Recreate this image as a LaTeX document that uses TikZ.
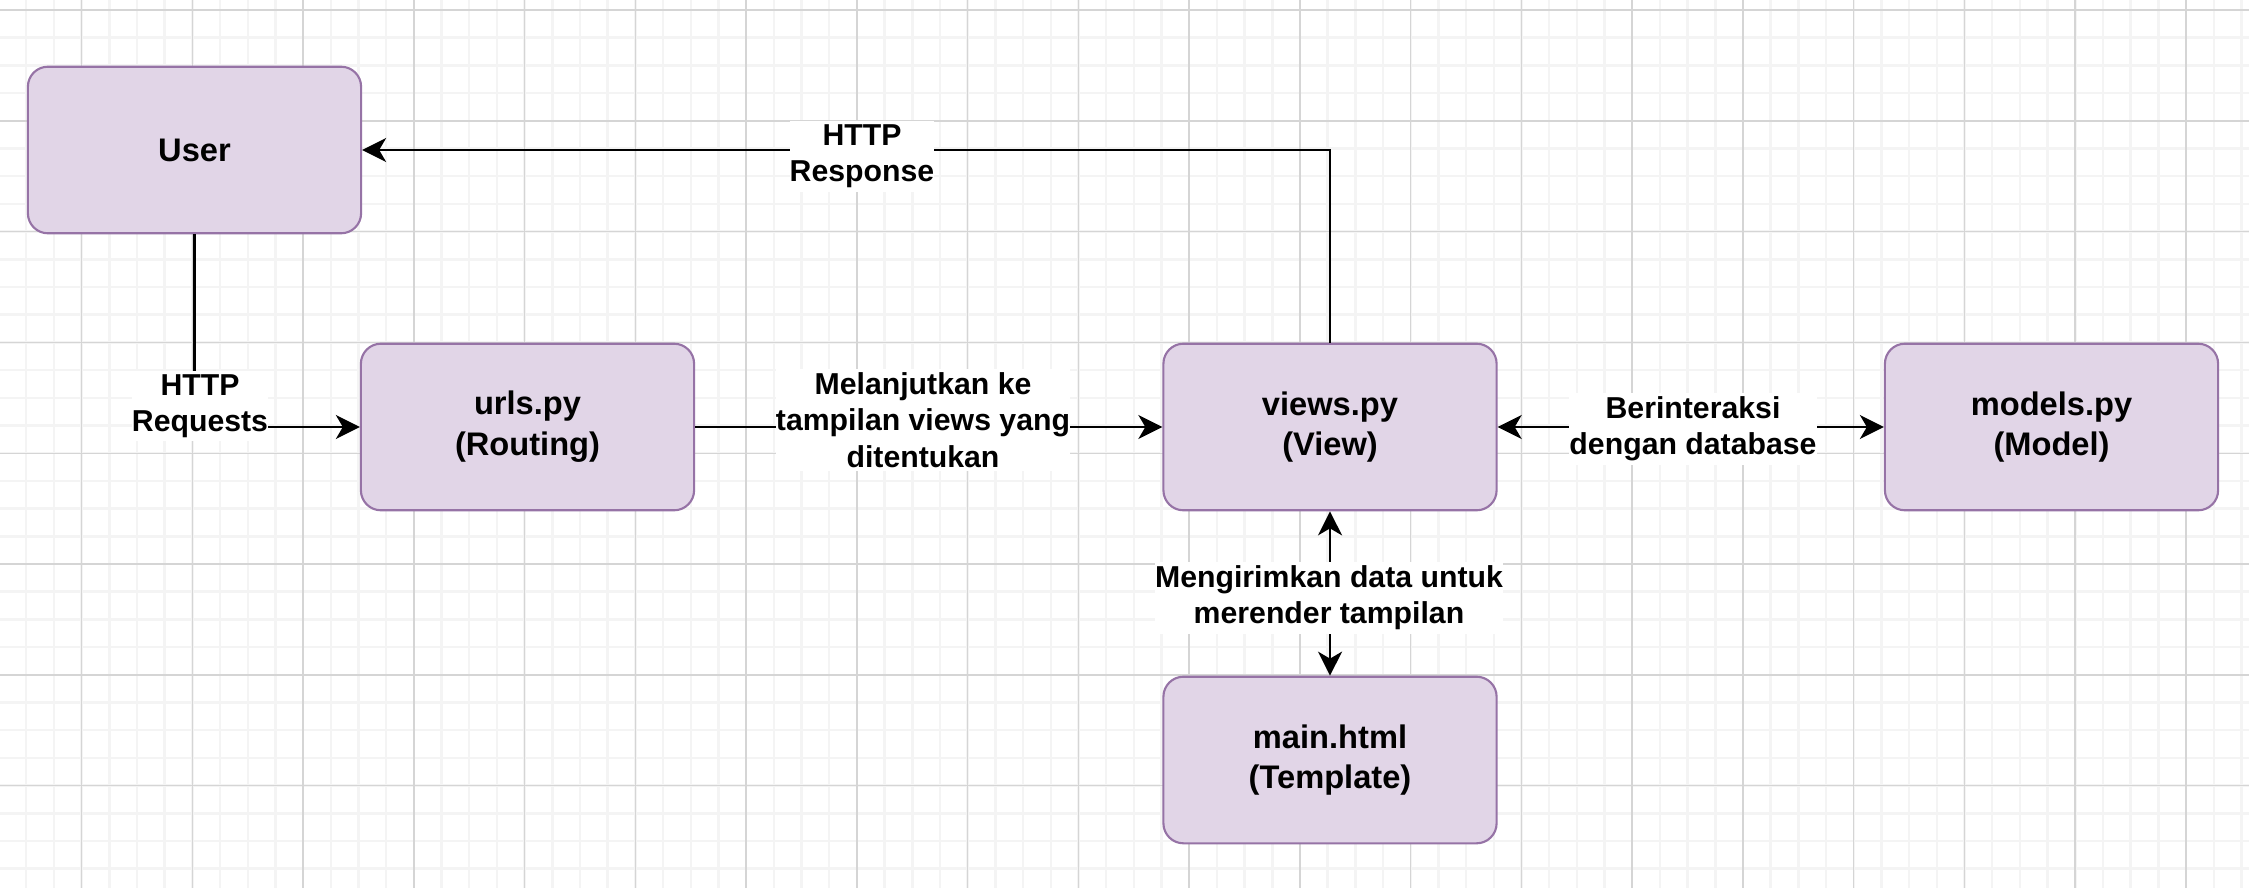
\documentclass[tikz,border=0pt]{standalone}
\usepackage{fontspec}
\setmainfont{Liberation Sans}
\usetikzlibrary{arrows.meta}

\definecolor{boxfill}{HTML}{E1D5E7}
\definecolor{boxline}{HTML}{9673A6}
\definecolor{gridmajor}{HTML}{D5D5D5}
\definecolor{gridminor}{HTML}{F4F4F4}

\begin{document}
\begin{tikzpicture}[x=0.01cm,y=-0.01cm]
    \tikzstyle{block}=[rectangle, rounded corners=0.2cm, draw=boxline, fill=boxfill, line width=0.6pt,
                       minimum width=3.33cm, minimum height=1.665cm, align=center,
                       font=\bfseries\fontsize{9.28}{11.6}\selectfont]
    \tikzstyle{edgelabel}=[fill=white, inner xsep=0pt, inner ysep=1pt, align=center, font=\bfseries\fontsize{8.6}{10.33}\selectfont]
    \tikzstyle{link}=[line width=0.6pt, -{Stealth[length=0.24cm, width=0.24cm, inset=0.07cm]}]
    \tikzstyle{twolink}=[line width=0.6pt, {Stealth[length=0.24cm, width=0.24cm, inset=0.07cm]}-{Stealth[length=0.24cm, width=0.24cm, inset=0.07cm]}]

    \useasboundingbox (0,0) rectangle (2249,888);
    \fill[white] (0,0) rectangle (2249,888);

    % grid
    \begin{scope}
        \clip (0,0) rectangle (2249,888);
        \foreach \i in {-3,...,80} \draw[gridminor, line width=0.7pt] (81.6+\i*27.69,0) -- ++(0,888);
        \foreach \j in {0,...,32}  \draw[gridminor, line width=0.7pt] (0,10+\j*27.7) -- ++(2249,0);
        \foreach \i in {-1,...,20} \draw[gridmajor, line width=0.4pt] (81.6+\i*110.75,0) -- ++(0,888);
        \foreach \j in {0,...,8}   \draw[gridmajor, line width=0.4pt] (0,10+\j*110.8) -- ++(2249,0);
    \end{scope}

    \node[block] (user)   at (194.5,150) {User};
    \node[block] (urls)   at (527.5,427) {urls.py\\(Routing)};
    \node[block] (views)  at (1330,427)  {views.py\\(View)};
    \node[block] (models) at (2051.5,427) {models.py\\(Model)};
    \node[block] (tmpl)   at (1330,760)  {main.html\\(Template)};

    \draw[link] (user.south) |- (urls.west);
    \draw[link] (urls) -- (views);
    \draw[link] (views.north) |- (user.east);
    \draw[twolink] (views) -- (models);
    \draw[twolink] (views) -- (tmpl);

    \node[edgelabel] (lreq)    at (200,406)    {HTTP\\Requests};
    \node[edgelabel] (lfwd)    at (923,420)    {Melanjutkan ke\\tampilan views yang\\ditentukan};
    \node[edgelabel] (lresp)   at (862,156.5)  {HTTP\\Response};
    \node[edgelabel] (ldb)     at (1693,429)   {Berinteraksi\\dengan database};
    \node[edgelabel] (lrender) at (1329,598)   {Mengirimkan data untuk\\merender tampilan};

\end{tikzpicture}
\end{document}
